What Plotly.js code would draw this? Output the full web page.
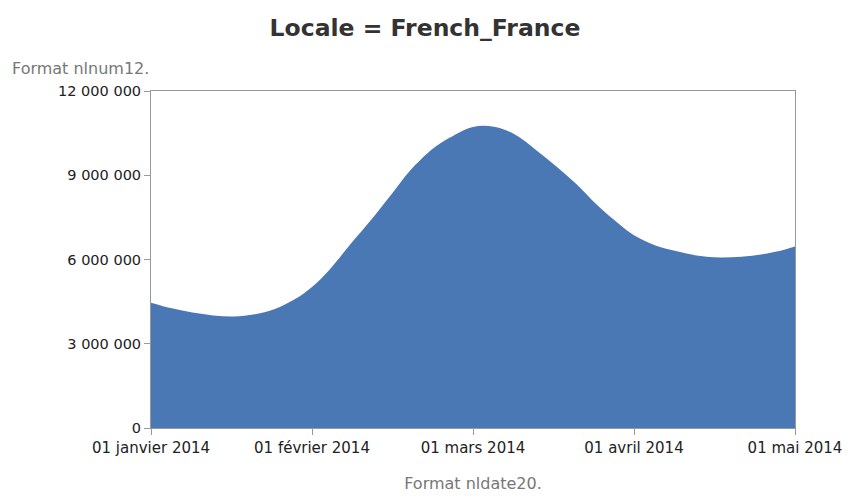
<!DOCTYPE html>
<html>
<head>
<meta charset="utf-8">
<script src="https://cdn.plot.ly/plotly-3.0.1.min.js"></script>
<style>html,body{margin:0;padding:0;background:#fff;}#chart{width:850px;height:500px;}</style>
</head>
<body>
<div id="chart"></div>
<script>
var dates = ["2014-01-01","2014-01-05","2014-01-09","2014-01-13","2014-01-17","2014-01-21","2014-01-25","2014-01-29",
  "2014-02-01","2014-02-04","2014-02-08","2014-02-11","2014-02-15","2014-02-18","2014-02-22","2014-02-25",
  "2014-03-01","2014-03-05","2014-03-09","2014-03-13","2014-03-17","2014-03-21","2014-03-25","2014-03-29",
  "2014-04-01","2014-04-05","2014-04-09","2014-04-13","2014-04-17","2014-04-21","2014-04-25","2014-04-29",
  "2014-05-01"];
var values = [4460000,4260000,4110000,4010000,3970000,4050000,4250000,4620000,
  5020000,5630000,6620000,7340000,8370000,9150000,9940000,10340000,
  10720000,10730000,10460000,9920000,9320000,8670000,7920000,7280000,
  6860000,6500000,6290000,6130000,6070000,6100000,6190000,6350000,
  6460000];
var tickDates = ["2014-01-01","2014-02-01","2014-03-01","2014-04-01","2014-05-01"];
var tickLabels = ["01 janvier 2014","01 février 2014","01 mars 2014","01 avril 2014","01 mai 2014"];
var yTicks = [0,3000000,6000000,9000000,12000000];
var yLabels = ["0","3 000 000","6 000 000","9 000 000","12 000 000"];

// The time axis gives every month the same width: position = month index + fraction of the month.
function monthPos(s) {
  var p = s.split("-"), y = +p[0], m = +p[1], d = +p[2];
  var dim = new Date(Date.UTC(y, m, 0)).getUTCDate();
  return (m - 1) + (d - 1) / dim;
}
var xPos = dates.map(monthPos);
var tickPos = tickDates.map(monthPos);

var FONT = "'DejaVu Sans', sans-serif";
var trace = {
  x: xPos, y: values, type: "scatter", mode: "lines",
  fill: "tozeroy", fillcolor: "#4a78b4",
  line: {color: "#4a78b4", width: 0, shape: "spline", smoothing: 1},
  hoverinfo: "skip"
};
var layout = {
  width: 850, height: 500,
  margin: {l: 151, r: 55, t: 91, b: 72},
  paper_bgcolor: "#fff", plot_bgcolor: "#fff",
  showlegend: false,
  font: {family: FONT, color: "#222"},
  title: {text: "<b>Locale = French_France</b>", x: 0.5, xanchor: "center", y: 0.945, yanchor: "middle",
    font: {size: 23.5, family: FONT, color: "#333"}},
  xaxis: {
    range: [tickPos[0], tickPos[tickPos.length - 1]],
    tickvals: tickPos, ticktext: tickLabels,
    ticks: "outside", ticklen: 6, tickcolor: "#999", tickwidth: 1,
    showline: true, linecolor: "#999", linewidth: 1, mirror: true,
    showgrid: false, zeroline: false,
    tickfont: {size: 15, color: "#222"},
    title: {text: "Format nldate20.", font: {size: 16, color: "#777"}, standoff: 21}
  },
  yaxis: {
    range: [0, 12000000],
    tickvals: yTicks, ticktext: yLabels,
    ticks: "outside", ticklen: 6, tickcolor: "#999", tickwidth: 1,
    showline: true, linecolor: "#999", linewidth: 1, mirror: true,
    showgrid: false, zeroline: false,
    tickfont: {size: 14.5, color: "#222"}
  },
  annotations: [{
    text: "Format nlnum12.", xref: "paper", yref: "paper", x: -0.219, y: 1.067,
    xanchor: "left", yanchor: "middle", showarrow: false,
    font: {size: 16, color: "#777", family: FONT}
  }]
};
Plotly.newPlot("chart", [trace], layout, {staticPlot: true, displayModeBar: false});
</script>
</body>
</html>
